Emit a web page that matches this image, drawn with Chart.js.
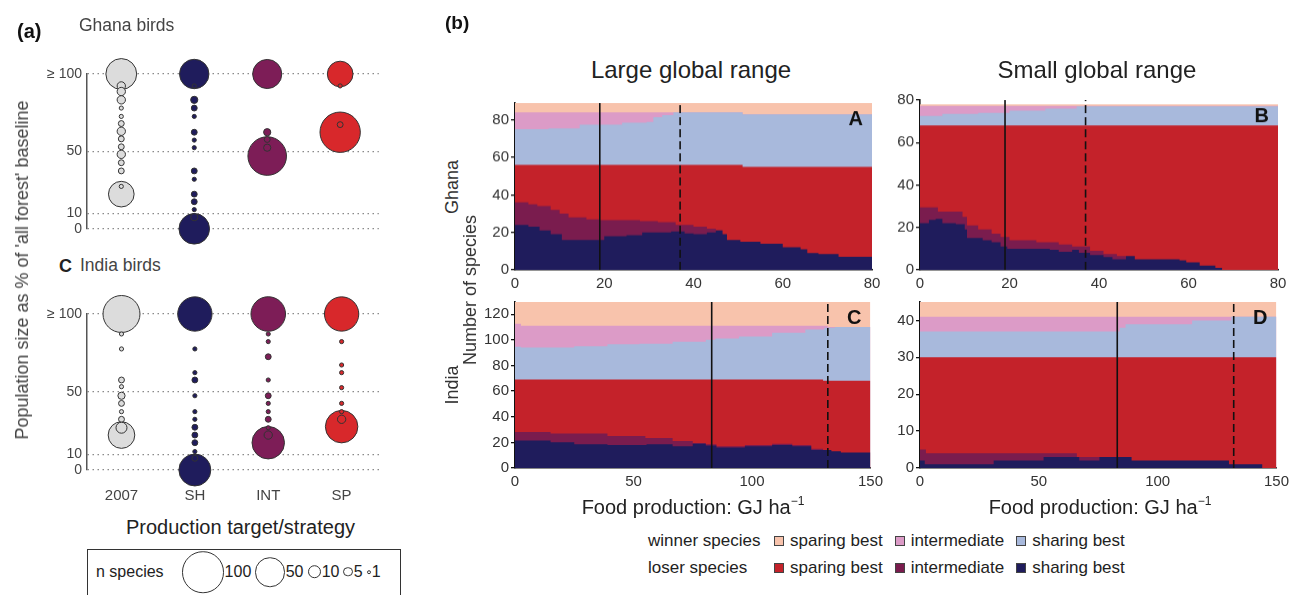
<!DOCTYPE html>
<html><head><meta charset="utf-8">
<script src="https://cdn.jsdelivr.net/npm/chart.js@4.4.1/dist/chart.umd.min.js"></script>
<style>
html,body{margin:0;padding:0;background:#fff;}
body{width:1296px;height:595px;position:relative;overflow:hidden;font-family:"Liberation Sans",Arial,Helvetica,sans-serif;color:#222;}
.t{position:absolute;white-space:nowrap;line-height:1;}
canvas{position:absolute;}
.sw{display:inline-block;width:10px;height:10px;box-sizing:border-box;border:1px solid #444;margin-right:6px;}
.lrow{position:absolute;left:648px;display:flex;align-items:center;font-size:17px;white-space:nowrap;}
.lrow .lab{width:126px;}
.lrow .it{display:flex;align-items:center;margin-right:12px;}
</style></head><body>
<script>
// ---------------- Panel (a): bubble data ----------------
const strategies = ['2007', 'SH', 'INT', 'SP'];
const popTicks = [0, 10, 50, 100];
const legendSpecies = [100, 50, 10, 5, 1];

// Ghana birds: population size (% of all-forest baseline) and number of species in each bubble
const ghana2007Pop = [100, 22.4, 92.3, 88.7, 83.3, 78, 72.6, 68, 63, 58.1, 53, 48.1, 42.7, 37.4, 27.4];
const ghana2007N   = [55, 38, 4, 4, 4, 1, 1, 2, 4, 2, 2, 4, 2, 2, 1];
const ghanaSHPop   = [100, 0, 92.3, 83.3, 78, 72.6, 62.4, 57.3, 52.4, 37.4, 32, 22.4, 17.5, 12.4, 7.5];
const ghanaSHN     = [50, 54, 1, 3, 2, 1, 2, 1, 1, 2, 1, 2, 2, 1, 3];
const ghanaINTPop  = [100, 47, 62.4, 57.7, 52.4];
const ghanaINTN    = [49, 86, 3, 2, 3];
const ghanaSPPop   = [100, 62.4, 92.3, 67.3];
const ghanaSPN     = [38, 94, 1, 2];

// India birds
const india2007Pop = [100, 22.4, 87.2, 77.6, 57.7, 53.4, 47.6, 42.7, 37.4, 32.5, 27.1];
const india2007N   = [79, 41, 1, 1, 2, 1, 3, 2, 1, 2, 7];
const indiaSHPop   = [100, 0, 77.6, 62.4, 57.7, 47.6, 37.4, 32.5, 27.4, 22.4, 17.5, 11.8, 7.5];
const indiaSHN     = [68, 59, 1, 1, 2, 1, 1, 1, 2, 2, 2, 1, 2];
const indiaINTPop  = [100, 17.5, 87.2, 82.3, 72.6, 57.7, 47.6, 42.7, 37.4, 32.5, 27.1, 22.4];
const indiaINTN    = [69, 61, 1, 1, 2, 1, 2, 1, 1, 2, 1, 4];
const indiaSPPop   = [100, 27.8, 82.3, 67.3, 62.4, 52.8, 42.7, 37.4, 32.5];
const indiaSPN     = [68, 61, 1, 1, 1, 1, 1, 1, 4];

// ---------------- Panel (b): stacked areas ----------------
// Each array: cumulative upper edge of the group, as [food production GJ/ha, number of species]
const ghanaLarge_loserSharing  = [[0,24],[3,23],[5.5,21],[8,19],[10.5,16],[19,16],[20,18],[25,18.5],[28.5,20],[35,20.5],[38,19.5],[40,19],[43,20],[45,21],[46.5,19],[47.5,16],[50.5,15],[55,14],[60,12],[64,11],[65.5,9],[68,8.5],[72.5,7],[80,7]];
const ghanaLarge_loserInter    = [[0,36],[3,35],[5,34],[8,32],[10,30],[12,28],[16,27],[19,26.5],[28,26],[32,25.5],[36,24],[40,23],[43,22],[45,21],[46.5,21]];
const ghanaLarge_loserSparing  = [[0,56],[51,55],[80,55]];
const ghanaLarge_winnerSharing = [[0,75],[7.5,75.5],[14.5,77.5],[24,78.5],[29.5,79],[31,81.5],[33,82.5],[35.5,84],[51,83],[80,83]];
const ghanaLarge_winnerInter   = [[0,84],[51,83],[80,83]];
const ghanaLarge_winnerSparing = [[0,89],[80,89]];

const ghanaSmall_loserSharing  = [[0,22],[2,23.5],[3.5,24],[5,22],[8,21.5],[10,19],[10.5,15],[14,14],[16,13],[18,11],[19.5,10],[29,9.5],[31,8.5],[34,9.5],[35.5,8],[38,7],[41,6],[43,5],[46,6.5],[48,5],[58,4.5],[59.5,3.5],[62.5,2],[66,1],[67.5,0],[80,0]];
const ghanaSmall_loserInter    = [[0,29.5],[4,27.5],[9.5,25],[10.5,21],[13,19],[16,17],[18,15.5],[20,14],[26,13],[31,12],[34,11],[38,9],[41,7.5],[44,6.5],[46,6.5]];
const ghanaSmall_loserSparing  = [[0,68],[80,68]];
const ghanaSmall_winnerSharing = [[0,72.5],[5,73.5],[13,74],[20,75],[28,76],[35,77],[80,77]];
const ghanaSmall_winnerInter   = [[0,77.3],[80,77.3]];
const ghanaSmall_winnerSparing = [[0,78],[80,78]];

const indiaLarge_loserSharing  = [[0,21.5],[15,20],[25,18.5],[39,18],[55.5,18.5],[66.5,17],[75,19],[80.5,17.5],[85,16],[97,17],[108.5,18],[117,17],[125,14],[133.5,13],[137.5,12],[150,12]];
const indiaLarge_loserInter    = [[0,28],[15,27],[39,25],[55,23.5],[66.5,21],[75,19.5],[80.5,18.5],[85,17],[97,18],[108.5,19],[117,18],[125,15],[130,15]];
const indiaLarge_loserSparing  = [[0,69],[130,68],[150,68]];
const indiaLarge_winnerSharing = [[0,94.5],[2.5,94],[25,95],[39,96.5],[52.5,97],[66.5,98.5],[80.5,100],[84.5,101],[94.5,102.5],[108.5,105.5],[122.5,108],[130.5,109.5],[135,110],[150,110]];
const indiaLarge_winnerInter   = [[0,112.5],[2.5,111],[130,111],[132,110],[150,110]];
const indiaLarge_winnerSparing = [[0,129.5],[150,129.5]];

const indiaSmall_loserSharing  = [[0,2],[2,1],[31,2],[52,3],[67,2],[75.5,3],[89,2],[130,1],[144,0],[150,0]];
const indiaSmall_loserInter    = [[0,5],[2.5,4],[66,3],[89,3]];
const indiaSmall_loserSparing  = [[0,30],[150,30]];
const indiaSmall_winnerSharing = [[0,37],[83,37],[84,38],[86.5,39],[114.5,40],[131,41],[150,41]];
const indiaSmall_winnerInter   = [[0,41],[150,41]];
const indiaSmall_winnerSparing = [[0,45],[150,45]];

const ghanaYTicks = [0, 20, 40, 60, 80];
const indiaLargeYTicks = [0, 20, 40, 60, 80, 100, 120];
const indiaSmallYTicks = [0, 10, 20, 30, 40];
const ghanaXTicks = [0, 20, 40, 60, 80];
const indiaXTicks = [0, 50, 100, 150];
const ghanaTargetLines = [19, 37];   // solid, dashed
const indiaTargetLines = [83, 132];  // solid, dashed

// ---------------- drawing ----------------
const FONT = '"Liberation Sans", Arial, Helvetica, sans-serif';
Chart.defaults.font.family = FONT;
const rOf = n => 2.08 * Math.sqrt(n);

function makeCanvas(l, t, w, h) {
  const c = document.createElement('canvas');
  c.width = w; c.height = h;
  c.style.left = l + 'px'; c.style.top = t + 'px';
  c.style.width = w + 'px'; c.style.height = h + 'px';
  document.body.appendChild(c);
  return c;
}
function txt(html, x, y, css, anchor) {
  const d = document.createElement('div');
  d.className = 't';
  d.innerHTML = html;
  d.style.cssText += css || '';
  d.style.left = x + 'px'; d.style.top = y + 'px';
  d.style.transform = anchor || 'translate(-50%,-50%)';
  document.body.appendChild(d);
  return d;
}

const colors = {
  grey: '#dcdcdc', navy: '#1f1c5c', purple: '#7d1d57', brightRed: '#d8282b',
  loserSharing: '#1f1c5c', loserInter: '#7a1c4e', loserSparing: '#c4222a',
  winnerSharing: '#a8b9dc', winnerInter: '#dc9bc7', winnerSparing: '#f8c3ac'
};

function bubbleChart(plot, series, showX) {
  const ml = plot.l, mt = 34, mr = 17, mb = showX ? 42 : 20;
  const c = makeCanvas(plot.l - ml, plot.t - mt, plot.r - plot.l + ml + mr, plot.b - plot.t + mt + mb);
  new Chart(c, {
    type: 'scatter',
    data: { datasets: series.map(s => ({
      data: s.pop.map((p, i) => ({ x: s.col, y: p, n: s.n[i] })),
      backgroundColor: s.color, borderColor: '#333', borderWidth: 1,
      pointRadius: ctx => (ctx.raw ? rOf(ctx.raw.n) : 0),
      pointHoverRadius: ctx => (ctx.raw ? rOf(ctx.raw.n) : 0),
      clip: false
    })) },
    options: {
      responsive: false, animation: false, events: [],
      layout: { padding: { left: 0, top: mt, right: mr, bottom: 0 } },
      plugins: { legend: { display: false }, tooltip: { enabled: false } },
      scales: {
        x: {
          type: 'linear', min: -0.47, max: 3.53,
          afterFit: s => { s.height = mb; },
          afterBuildTicks: s => { s.ticks = strategies.map((_, i) => ({ value: i })); },
          grid: { display: false, drawTicks: false }, border: { display: false },
          ticks: { display: showX, callback: v => strategies[v], font: { size: 15 }, color: '#444', padding: 17, maxRotation: 0 }
        },
        y: {
          min: 0, max: 100,
          afterFit: s => { s.width = ml; },
          afterBuildTicks: s => { s.ticks = popTicks.map(v => ({ value: v })); },
          grid: { color: '#8a8a8a', lineWidth: 1.2, drawTicks: false },
          border: { display: true, color: '#555', width: 1.5, dash: [1.5, 3.5] },
          ticks: { callback: v => (v === 100 ? '\u2265 100' : v), font: { size: 14 }, color: '#444', padding: 5 }
        }
      }
    }
  });
}

const letterPlugin = {
  id: 'letter',
  afterDatasetsDraw(chart, args, opts) {
    const { ctx, chartArea: a } = chart;
    ctx.save();
    ctx.font = 'bold 20px ' + FONT;
    ctx.fillStyle = '#111';
    ctx.textAlign = 'right'; ctx.textBaseline = 'middle';
    ctx.fillText(opts.text, a.right - 9, a.top + 16);
    ctx.restore();
  }
};

function areaChart(plot, layers, lines, ymax, xmax, yTicks, xTicks, letter) {
  const ml = 50, mt = 12, mr = 16, mb = 30;
  const c = makeCanvas(plot.l - ml, plot.t - mt, plot.r - plot.l + ml + mr, plot.b - plot.t + mt + mb);
  const ds = layers.map((L, i) => ({
    type: 'line', data: L.pts.map(p => ({ x: p[0], y: p[1] })),
    stepped: true, fill: 'origin', backgroundColor: L.color,
    borderColor: 'rgba(0,0,0,0)', borderWidth: 0, pointRadius: 0, order: i + 1
  }));
  lines.forEach((x, i) => ds.push({
    type: 'line', data: [{ x: x, y: 0 }, { x: x, y: ymax }],
    borderColor: '#111', borderWidth: 1.6, borderDash: i === 1 ? [8, 4] : [],
    pointRadius: 0, fill: false, order: 0
  }));
  new Chart(c, {
    type: 'line',
    data: { datasets: ds },
    options: {
      responsive: false, animation: false, events: [],
      layout: { padding: { left: 0, top: mt, right: mr, bottom: 0 } },
      plugins: { legend: { display: false }, tooltip: { enabled: false }, letter: { text: letter } },
      scales: {
        x: {
          type: 'linear', min: 0, max: xmax,
          afterFit: s => { s.height = mb; },
          afterBuildTicks: s => { s.ticks = xTicks.map(v => ({ value: v })); },
          grid: { display: false, drawTicks: false },
          border: { display: true, color: '#111', width: 1.6 },
          ticks: { font: { size: 15 }, color: '#333', padding: 5, maxRotation: 0 }
        },
        y: {
          type: 'linear', min: 0, max: ymax,
          afterFit: s => { s.width = ml; },
          afterBuildTicks: s => { s.ticks = yTicks.map(v => ({ value: v })); },
          grid: { drawOnChartArea: false, drawTicks: true, tickLength: 4, color: '#111', lineWidth: 1.3 },
          border: { display: true, color: '#111', width: 1.6 },
          ticks: { font: { size: 15 }, color: '#333', padding: 2 }
        }
      }
    },
    plugins: [letterPlugin]
  });
}

function layersOf(a, b, c, d, e, f) {
  return [
    { pts: a, color: colors.loserSharing }, { pts: b, color: colors.loserInter },
    { pts: c, color: colors.loserSparing }, { pts: d, color: colors.winnerSharing },
    { pts: e, color: colors.winnerInter }, { pts: f, color: colors.winnerSparing }
  ];
}

// Panel (a) charts
bubbleChart({ l: 87, r: 383, t: 74, b: 230 }, [
  { col: 0, pop: ghana2007Pop, n: ghana2007N, color: colors.grey },
  { col: 1, pop: ghanaSHPop, n: ghanaSHN, color: colors.navy },
  { col: 2, pop: ghanaINTPop, n: ghanaINTN, color: colors.purple },
  { col: 3, pop: ghanaSPPop, n: ghanaSPN, color: colors.brightRed }
], false);
bubbleChart({ l: 87, r: 383, t: 314, b: 470 }, [
  { col: 0, pop: india2007Pop, n: india2007N, color: colors.grey },
  { col: 1, pop: indiaSHPop, n: indiaSHN, color: colors.navy },
  { col: 2, pop: indiaINTPop, n: indiaINTN, color: colors.purple },
  { col: 3, pop: indiaSPPop, n: indiaSPN, color: colors.brightRed }
], true);

// Panel (b) charts
areaChart({ l: 515, r: 872, t: 103, b: 269.5 },
  layersOf(ghanaLarge_loserSharing, ghanaLarge_loserInter, ghanaLarge_loserSparing, ghanaLarge_winnerSharing, ghanaLarge_winnerInter, ghanaLarge_winnerSparing),
  ghanaTargetLines, 89, 80, ghanaYTicks, ghanaXTicks, 'A');
areaChart({ l: 920, r: 1278, t: 100, b: 269.5 },
  layersOf(ghanaSmall_loserSharing, ghanaSmall_loserInter, ghanaSmall_loserSparing, ghanaSmall_winnerSharing, ghanaSmall_winnerInter, ghanaSmall_winnerSparing),
  ghanaTargetLines, 80, 80, ghanaYTicks, ghanaXTicks, 'B');
areaChart({ l: 515, r: 872, t: 301.7, b: 468.5 },
  layersOf(indiaLarge_loserSharing, indiaLarge_loserInter, indiaLarge_loserSparing, indiaLarge_winnerSharing, indiaLarge_winnerInter, indiaLarge_winnerSparing),
  indiaTargetLines, 129.5, 150, indiaLargeYTicks, indiaXTicks, 'C');
areaChart({ l: 920, r: 1278, t: 301.7, b: 468.5 },
  layersOf(indiaSmall_loserSharing, indiaSmall_loserInter, indiaSmall_loserSparing, indiaSmall_winnerSharing, indiaSmall_winnerInter, indiaSmall_winnerSparing),
  indiaTargetLines, 45, 150, indiaSmallYTicks, indiaXTicks, 'D');

// ---------------- texts ----------------
txt('(a)', 17, 31, 'font-weight:bold;font-size:20px;color:#111;', 'translate(0,-50%)');
txt('Ghana birds', 79, 26, 'font-size:17.5px;color:#444;', 'translate(0,-50%)');
txt('C', 59, 266, 'font-weight:bold;font-size:18px;color:#222;', 'translate(0,-50%)');
txt('India birds', 80, 266, 'font-size:17.5px;color:#444;', 'translate(0,-50%)');
txt("Population size as % of 'all forest' baseline", 22, 270, 'font-size:18px;color:#444;', 'translate(-50%,-50%) rotate(-90deg)');
txt('Production target/strategy', 240.5, 527, 'font-size:20px;color:#222;');

// bubble size legend
const box = document.createElement('div');
box.style.cssText = 'position:absolute;left:87px;top:549px;width:314px;height:70px;border:1.5px solid #333;box-sizing:border-box;';
document.body.appendChild(box);
txt('n species', 96, 572, 'font-size:16px;color:#222;', 'translate(0,-50%)');
const lg = document.createElement('div');
lg.style.cssText = 'position:absolute;left:182px;top:572px;transform:translate(0,-50%);display:flex;align-items:center;font-size:16px;color:#222;white-space:nowrap;';
legendSpecies.forEach(n => {
  const r = rOf(n);
  const c = document.createElement('div');
  c.style.cssText = `width:${2 * r}px;height:${2 * r}px;border:1.2px solid #333;border-radius:50%;box-sizing:border-box;flex:none;`;
  const s = document.createElement('span');
  s.textContent = n;
  s.style.cssText = 'margin-left:1px;margin-right:4px;';
  lg.appendChild(c); lg.appendChild(s);
});
document.body.appendChild(lg);

txt('(b)', 445, 22, 'font-weight:bold;font-size:19px;color:#111;', 'translate(0,-50%)');
txt('Large global range', 691, 70, 'font-size:24px;color:#222;');
txt('Small global range', 1097, 70, 'font-size:24px;color:#222;');
txt('Ghana', 452, 187, 'font-size:18px;color:#333;', 'translate(-50%,-50%) rotate(-90deg)');
txt('India', 452, 385, 'font-size:18px;color:#333;', 'translate(-50%,-50%) rotate(-90deg)');
txt('Number of species', 470, 290, 'font-size:18px;color:#333;', 'translate(-50%,-50%) rotate(-90deg)');
txt('Food production: GJ ha<sup style="font-size:12px;vertical-align:9px;">\u22121</sup>', 693, 506, 'font-size:20px;color:#222;');
txt('Food production: GJ ha<sup style="font-size:12px;vertical-align:9px;">\u22121</sup>', 1100, 506, 'font-size:20px;color:#222;');

// category legend
function legendRow(label, y, cols) {
  const row = document.createElement('div');
  row.className = 'lrow';
  row.style.top = y + 'px';
  row.style.transform = 'translate(0,-50%)';
  let h = `<span class="lab">${label}</span>`;
  cols.forEach(([name, col]) => { h += `<span class="it"><span class="sw" style="background:${col}"></span>${name}</span>`; });
  row.innerHTML = h;
  document.body.appendChild(row);
}
legendRow('winner species', 541, [['sparing best', colors.winnerSparing], ['intermediate', colors.winnerInter], ['sharing best', colors.winnerSharing]]);
legendRow('loser species', 568, [['sparing best', colors.loserSparing], ['intermediate', colors.loserInter], ['sharing best', colors.loserSharing]]);
</script>
</body></html>
